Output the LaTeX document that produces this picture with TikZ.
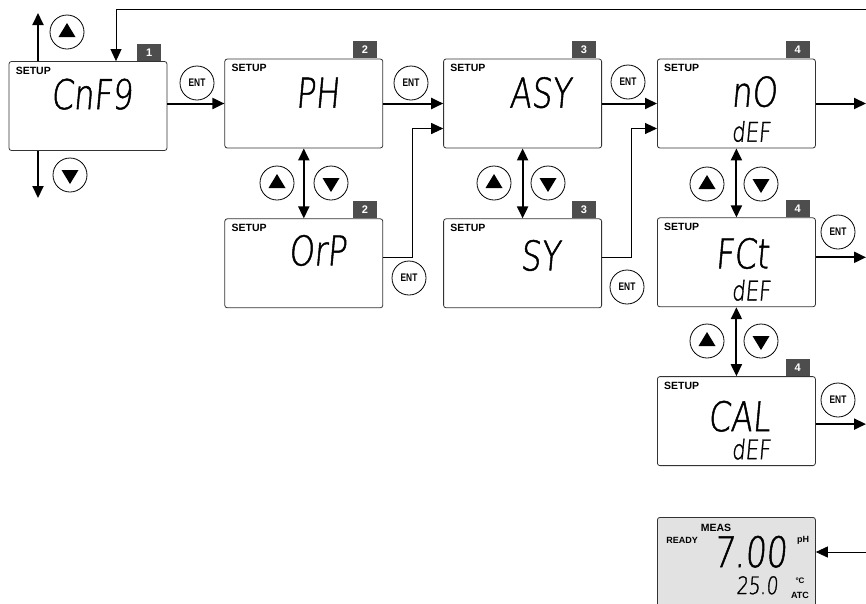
\documentclass[tikz,border=0pt]{standalone}
\usepackage{fontspec}
\setmainfont{Liberation Sans}
\IfFontExistsTF{DejaVu Sans ExtraLight}
  {\newfontfamily\segfont{DejaVu Sans ExtraLight}[FakeSlant=0.09,FakeStretch=0.78,FakeBold=1.2]}
  {\newfontfamily\segfont{DejaVu Sans}[FakeSlant=0.09,FakeStretch=0.78]}
\newfontfamily\keyfont{Liberation Sans}[FakeStretch=0.76]
\usetikzlibrary{arrows.meta,positioning,calc}
\definecolor{badgegray}{HTML}{4D4D4D}
\definecolor{lcdgray}{HTML}{E2E2E2}
\definecolor{framegray}{HTML}{333333}
\newcommand{\setupscreen}[4]{%
  \node[badge, anchor=south east] (#1badge) at ($(#1.north east)+(-6,0)$) {#2};
  \node[tag, anchor=base west] (#1tag) at ($(#1.north west)+(7,13)$) {SETUP};
  \node[seg, anchor=base] (#1text) at ($(#1.north west)+(#4)$) {#3};
}

\begin{document}
\begin{tikzpicture}[
  x=1pt, y=-1pt,
  lcd/.style={draw=framegray, line width=0.8pt, rounded corners=2.5pt, minimum width=158pt, minimum height=89pt, inner sep=0pt},
  meas/.style={lcd, fill=lcdgray, minimum height=92pt},
  badge/.style={fill=badgegray, text=white, font=\bfseries\fontsize{11}{11}\selectfont, minimum width=24pt, minimum height=17pt, inner sep=0pt},
  tag/.style={font=\bfseries\fontsize{10.5}{11}\selectfont, inner sep=0pt},
  lcdlabel/.style={font=\bfseries\fontsize{9}{10}\selectfont, inner sep=0pt},
  seg/.style={font=\segfont\fontsize{41}{41}\selectfont, inner sep=0pt},
  subseg/.style={font=\segfont\fontsize{27}{27}\selectfont, inner sep=0pt},
  btn/.style={circle, draw, line width=0.8pt, minimum size=34pt, inner sep=0pt},
  ent/.style={btn, font=\keyfont\bfseries\fontsize{11}{11}\selectfont},
  upbtn/.style={btn, path picture={\fill ($(path picture bounding box.center)+(-8.5,5)$) -- ++(17,0) -- ++(-8.5,-14) -- cycle;}},
  downbtn/.style={btn, path picture={\fill ($(path picture bounding box.center)+(-8.5,-5)$) -- ++(17,0) -- ++(-8.5,14) -- cycle;}},
  arrow/.style={-{Triangle[length=12pt, width=11pt]}, line width=2pt},
  biarrow/.style={{Triangle[length=12pt, width=11pt]}-{Triangle[length=12pt, width=11pt]}, line width=2pt},
  link/.style={-{Triangle[length=12pt, width=11pt]}, line width=0.9pt}
]
\useasboundingbox (0,0) rectangle (866,603);

\node[lcd] (cnfg) at (88,106) {};
\node[lcd, right=57pt of cnfg, yshift=2.5pt] (ph) {};
\node[lcd, right=60pt of ph] (asy) {};
\node[lcd, right=55pt of asy] (nozero) {};
\node[lcd, below=70pt of ph] (orp) {};
\node[lcd, below=70pt of asy] (sy) {};
\node[lcd, below=69pt of nozero] (fct) {};
\node[lcd, below=69pt of fct] (cal) {};
\node[meas, below=51pt of cal] (ready) {};

\setupscreen{cnfg}{1}{CnF9}{83,48}
\setupscreen{ph}{2}{PH}{93,49}
\setupscreen{asy}{3}{ASY}{97,49}
\setupscreen{nozero}{4}{nO}{97,48}
\setupscreen{orp}{2}{OrP}{93,47}
\setupscreen{sy}{3}{SY}{97,52}
\setupscreen{fct}{4}{FCt}{85,51}
\setupscreen{cal}{4}{CAL}{82,55}
\node[subseg, anchor=base] (nozerodef) at ($(nozero.north west)+(94,83)$) {dEF};
\node[subseg, anchor=base] (fctdef) at ($(fct.north west)+(94,83)$) {dEF};
\node[subseg, anchor=base] (caldef) at ($(cal.north west)+(94,83)$) {dEF};

\node[tag, anchor=base] (readymeas) at ($(ready.north west)+(59,14)$) {MEAS};
\node[lcdlabel, anchor=base] (readytag) at ($(ready.north west)+(25,26)$) {READY};
\node[seg, font=\segfont\fontsize{42}{42}\selectfont, anchor=base] (readyph) at ($(ready.north west)+(93,50)$) {7.00};
\node[lcdlabel, anchor=base] (readyunit) at ($(ready.north west)+(146,25)$) {pH};
\node[subseg, font=\segfont\fontsize{24}{24}\selectfont, anchor=base] (readytemp) at ($(ready.north west)+(100,77)$) {25.0};
\node[lcdlabel, font=\bfseries\fontsize{8}{9}\selectfont, anchor=base] (readydeg) at ($(ready.north west)+(143,66)$) {°C};
\node[lcdlabel, anchor=base] (readyatc) at ($(ready.north west)+(143,81)$) {ATC};

\node[upbtn] (cnfgup) at (67,32) {};
\node[downbtn] (cnfgdown) at (70,175) {};
\node[upbtn] (phup) at (277,183) {};
\node[downbtn] (phdown) at (331,183) {};
\node[upbtn] (asyup) at (494,183) {};
\node[downbtn] (asydown) at (548,183) {};
\node[upbtn] (nozeroup) at (707,184) {};
\node[downbtn] (nozerodown) at (761,184) {};
\node[upbtn] (fctup) at (707,341) {};
\node[downbtn] (fctdown) at (761,341) {};

\node[ent] (cnfgent) at (197,83) {ENT};
\node[ent] (phent) at (411,83) {ENT};
\node[ent] (asyent) at (628,82) {ENT};
\node[ent] (orpent) at (409,278) {ENT};
\node[ent] (syent) at (627,287) {ENT};
\node[ent] (fctent) at (838,232) {ENT};
\node[ent] (calent) at (838,400) {ENT};

\coordinate (rim) at (866,0);
\coordinate (loopin) at (866,9);
\coordinate (measin) at (866,552);
\coordinate (cnfgtop) at (38,13);
\coordinate (cnfgbot) at (38,198);

\draw[link] (loopin) -| ([xshift=28pt]cnfg.north);
\draw[arrow] (cnfgtop |- cnfg.north) -- (cnfgtop);
\draw[arrow] (cnfgbot |- cnfg.south) -- (cnfgbot);
\draw[arrow] (cnfg.east |- ph.west) -- (ph.west);
\draw[arrow] (ph.east) -- (asy.west);
\draw[arrow] (asy.east) -- (nozero.west);
\draw[link] ([yshift=6pt]orp.east) -- ++(29,0) |- ([yshift=-25pt]asy.west);
\draw[link] ([yshift=6pt]sy.east) -- ++(29,0) |- ([yshift=-25pt]nozero.west);
\draw[biarrow] (ph.south) -- (orp.north);
\draw[biarrow] (asy.south) -- (sy.north);
\draw[biarrow] (nozero.south) -- (fct.north);
\draw[biarrow] (fct.south) -- (cal.north);
\draw[arrow] (nozero.east) -- (nozero.east -| rim);
\draw[arrow] ([yshift=5pt]fct.east) -- ([yshift=5pt]fct.east -| rim);
\draw[arrow] ([yshift=-3pt]cal.east) -- ([yshift=-3pt]cal.east -| rim);
\draw[link] (measin) -- (measin -| ready.east);

\end{tikzpicture}
\end{document}
